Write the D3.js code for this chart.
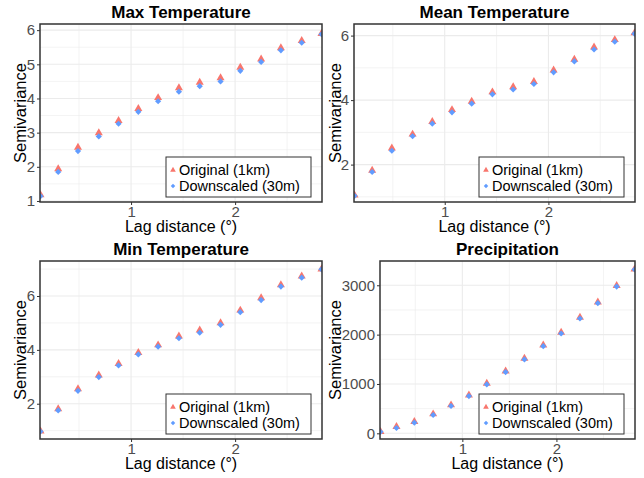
<!DOCTYPE html>
<html>
<head>
<meta charset="utf-8">
<script src="https://cdn.jsdelivr.net/npm/d3@7"></script>
<style>
  body { margin: 0; background: #fff; }
  svg { display: block; font-family: "Liberation Sans", Arial, sans-serif; }
</style>
</head>
<body>
<svg id="graph" width="644" height="478"></svg>
<script>
// lag distances (degrees)
var lags = [0.13, 0.30, 0.49, 0.69, 0.88, 1.07, 1.26, 1.46, 1.66, 1.86, 2.05, 2.25, 2.44, 2.64, 2.83];

var maxOrig = [1.18, 1.94, 2.57, 2.99, 3.35, 3.70, 4.02, 4.31, 4.47, 4.60, 4.91, 5.15, 5.48, 5.69, 5.90];
var maxDown = [1.14, 1.85, 2.46, 2.89, 3.26, 3.61, 3.92, 4.20, 4.36, 4.50, 4.81, 5.07, 5.41, 5.63, 5.88];

var meanOrig = [1.05, 1.82, 2.51, 2.94, 3.33, 3.70, 3.96, 4.25, 4.41, 4.57, 4.93, 5.26, 5.64, 5.87, 6.08];
var meanDown = [1.03, 1.77, 2.43, 2.88, 3.27, 3.62, 3.89, 4.18, 4.33, 4.50, 4.86, 5.20, 5.57, 5.81, 6.06];

var minOrig = [0.98, 1.81, 2.55, 3.06, 3.49, 3.90, 4.18, 4.51, 4.73, 5.00, 5.47, 5.93, 6.41, 6.74, 7.00];
var minDown = [0.97, 1.75, 2.48, 2.99, 3.42, 3.83, 4.12, 4.43, 4.64, 4.93, 5.40, 5.85, 6.35, 6.68, 6.99];

var precOrig = [34, 135, 236, 391, 573, 775, 1011, 1261, 1517, 1787, 2043, 2347, 2657, 2994, 3324];
var precDown = [30, 108, 216, 371, 553, 755, 991, 1241, 1497, 1767, 2023, 2326, 2637, 2974, 3320];

var xTicks = [1, 2];
var xMinor = [0.5, 1.5, 2.5];

var legendLabels = ["Original (1km)", "Downscaled (30m)"];
var colOrig = "#F8766D", colDown = "#619CFF";

var panels = [
  {title: "Max Temperature", orig: maxOrig, down: maxDown, ydom: [0.97, 6.18],
   yTicks: [1, 2, 3, 4, 5, 6], yMinor: [1.5, 2.5, 3.5, 4.5, 5.5],
   x0: 40, x1: 322, y0: 24, y1: 202, ytitleX: 20},
  {title: "Mean Temperature", orig: meanOrig, down: meanDown, ydom: [0.84, 6.36],
   yTicks: [2, 4, 6], yMinor: [1, 3, 5],
   x0: 354, x1: 635, y0: 24, y1: 202, ytitleX: 335},
  {title: "Min Temperature", orig: minOrig, down: minDown, ydom: [0.69, 7.30],
   yTicks: [2, 4, 6], yMinor: [1, 3, 5, 7],
   x0: 40, x1: 322, y0: 261, y1: 439, ytitleX: 20},
  {title: "Precipitation", orig: precOrig, down: precDown, ydom: [-115, 3492],
   yTicks: [0, 1000, 2000, 3000], yMinor: [500, 1500, 2500],
   x0: 380, x1: 635, y0: 261, y1: 439, ytitleX: 335}
];

var svg = d3.select("#graph");
var diamond = d3.symbol().type(d3.symbolSquare);

panels.forEach(function(p, k) {
  var x = d3.scaleLinear().domain([0.125, 2.835]).range([p.x0, p.x1]);
  var y = d3.scaleLinear().domain(p.ydom).range([p.y1, p.y0]);
  var g = svg.append("g");

  g.append("clipPath").attr("id", "clip" + k)
    .append("rect")
    .attr("x", p.x0).attr("y", p.y0)
    .attr("width", p.x1 - p.x0).attr("height", p.y1 - p.y0);

  // grid lines
  var grid = g.append("g").attr("stroke", "#ebebeb");
  grid.selectAll(".ymin").data(p.yMinor).enter().append("line")
    .attr("x1", p.x0).attr("x2", p.x1)
    .attr("y1", function(d) {return y(d);}).attr("y2", function(d) {return y(d);})
    .attr("stroke-width", 0.6);
  grid.selectAll(".xmin").data(xMinor).enter().append("line")
    .attr("y1", p.y0).attr("y2", p.y1)
    .attr("x1", function(d) {return x(d);}).attr("x2", function(d) {return x(d);})
    .attr("stroke-width", 0.6);
  grid.selectAll(".ymaj").data(p.yTicks).enter().append("line")
    .attr("x1", p.x0).attr("x2", p.x1)
    .attr("y1", function(d) {return y(d);}).attr("y2", function(d) {return y(d);})
    .attr("stroke-width", 1.1);
  grid.selectAll(".xmaj").data(xTicks).enter().append("line")
    .attr("y1", p.y0).attr("y2", p.y1)
    .attr("x1", function(d) {return x(d);}).attr("x2", function(d) {return x(d);})
    .attr("stroke-width", 1.1);

  // points
  var pts = g.append("g").attr("clip-path", "url(#clip" + k + ")");
  pts.selectAll(".o").data(p.orig).enter().append("path")
    .attr("d", d3.symbol().type(d3.symbolTriangle).size(28))
    .attr("transform", function(d, i) {return "translate(" + x(lags[i]) + "," + y(d) + ")";})
    .attr("fill", colOrig);
  pts.selectAll(".d").data(p.down).enter().append("path")
    .attr("d", diamond.size(19)())
    .attr("transform", function(d, i) {return "translate(" + x(lags[i]) + "," + y(d) + ") rotate(45)";})
    .attr("fill", colDown);

  // axes
  var xa = g.append("g").attr("transform", "translate(0," + p.y1 + ")")
    .call(d3.axisBottom(x).tickValues(xTicks).tickSize(3).tickPadding(1).tickFormat(d3.format("d")));
  var ya = g.append("g").attr("transform", "translate(" + p.x0 + ",0)")
    .call(d3.axisLeft(y).tickValues(p.yTicks).tickSize(3).tickPadding(2).tickFormat(d3.format("d")));
  [xa, ya].forEach(function(a) {
    a.select(".domain").remove();
    a.selectAll(".tick line").attr("stroke", "#333");
    a.selectAll(".tick text").attr("fill", "#4d4d4d")
      .style("font-size", "15px").style("font-family", "Liberation Sans, Arial, sans-serif");
  });

  // panel border
  g.append("rect")
    .attr("x", p.x0).attr("y", p.y0)
    .attr("width", p.x1 - p.x0).attr("height", p.y1 - p.y0)
    .attr("fill", "none").attr("stroke", "#333").attr("stroke-width", 1.5);

  // titles
  g.append("text")
    .attr("x", (p.x0 + p.x1) / 2).attr("y", p.y0 - 6)
    .attr("text-anchor", "middle")
    .style("font-size", "17px").style("font-weight", "bold")
    .text(p.title);
  g.append("text")
    .attr("x", (p.x0 + p.x1) / 2).attr("y", p.y1 + 30)
    .attr("text-anchor", "middle")
    .style("font-size", "16px")
    .text("Lag distance (°)");
  g.append("text")
    .attr("transform", "translate(" + (p.ytitleX + 6) + "," + ((p.y0 + p.y1) / 2) + ") rotate(-90)")
    .attr("text-anchor", "middle")
    .style("font-size", "16.5px")
    .text("Semivariance");

  // legend
  var lx = p.x1 - 156, ly = p.y1 - 45;
  var leg = g.append("g").attr("transform", "translate(" + lx + "," + ly + ")");
  leg.append("rect")
    .attr("width", 145).attr("height", 40)
    .attr("fill", "#fff").attr("stroke", "#333").attr("stroke-width", 1);
  leg.selectAll(".key").data(legendLabels).enter().append("path")
    .attr("d", function(d, i) {
      return i === 0 ? d3.symbol().type(d3.symbolTriangle).size(14)() : diamond.size(10)();
    })
    .attr("transform", function(d, i) {return "translate(7," + (13 + i * 16) + ")" + (i === 1 ? " rotate(45)" : "");})
    .attr("fill", function(d, i) {return i === 0 ? colOrig : colDown;});
  leg.selectAll(".lab").data(legendLabels).enter().append("text")
    .attr("x", 13).attr("y", function(d, i) {return 18 + i * 16;})
    .style("font-size", "14.5px")
    .text(function(d) {return d;});
});
</script>
</body>
</html>
